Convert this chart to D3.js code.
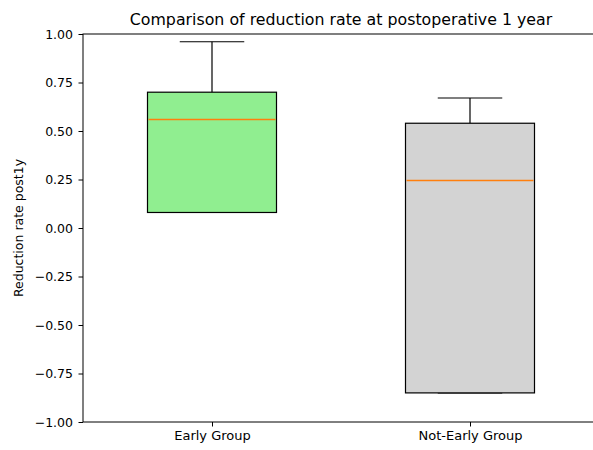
<!DOCTYPE html>
<html>
<head>
<meta charset="utf-8">
<script src="https://cdn.jsdelivr.net/npm/d3@7"></script>
<style>
  body { margin: 0; background: #fff; }
  text { font-family: "DejaVu Sans", sans-serif; fill: #000; }
</style>
</head>
<body>
<svg></svg>
<script>
var width = 593;
var height = 450;

// box stats
var groups = ["Early Group", "Not-Early Group"];
var whiskerLow = [0.08, -0.85];
var q1 = [0.08, -0.85];
var medians = [0.56, 0.25];
var q3 = [0.70, 0.54];
var whiskerHigh = [0.96, 0.67];
var fills = ["#90ee90", "#d3d3d3"];
var yTicks = [-1.00, -0.75, -0.50, -0.25, 0.00, 0.25, 0.50, 0.75, 1.00];

// note: "top" is taken by window.top, so use plot* names
var plotLeft = 83, plotRight = 599, plotTop = 34, plotBottom = 422;

var xScale = d3.scaleLinear()
    .domain([0.5, 2.5])
    .range([plotLeft, plotRight]);

var yScale = d3.scaleLinear()
    .domain([-1, 1])
    .range([plotBottom, plotTop]);

var svg = d3.select("svg")
    .attr("width", width)
    .attr("height", height);

var yAxis = d3.axisLeft(yScale)
    .tickValues(yTicks)
    .tickFormat(d => d3.format(".2f")(d).replace("-", "\u2212"))
    .tickSize(4.5)
    .tickSizeOuter(0);

var xAxis = d3.axisBottom(xScale)
    .tickValues([1, 2])
    .tickFormat((d, i) => groups[i])
    .tickSize(4.5)
    .tickSizeOuter(0);

var gy = svg.append("g")
    .classed("y-axis", true)
    .attr("transform", `translate(${plotLeft},0)`)
    .call(yAxis);

var gx = svg.append("g")
    .classed("x-axis", true)
    .attr("transform", `translate(0,${plotBottom})`)
    .call(xAxis);

svg.selectAll(".domain").remove();
svg.selectAll(".tick line").attr("stroke", "#000").attr("stroke-width", 1);
svg.selectAll(".tick text").attr("fill", "#000");
gy.selectAll(".tick text").style("font-size", "12.5px").attr("x", -10);
gx.selectAll(".tick text").style("font-size", "13px").attr("y", 9);

var data = groups.map((g, i) => ({
    pos: i + 1,
    lo: whiskerLow[i], q1: q1[i], med: medians[i], q3: q3[i], hi: whiskerHigh[i],
    fill: fills[i]
}));

var boxHalf = 0.25, capHalf = 0.125;

var box = svg.selectAll(".box")
    .data(data)
    .enter()
    .append("g")
    .classed("box", true);

// whiskers
box.append("line")
    .attr("x1", d => xScale(d.pos)).attr("x2", d => xScale(d.pos))
    .attr("y1", d => yScale(d.q3)).attr("y2", d => yScale(d.hi))
    .attr("stroke", "#000").attr("stroke-width", 1.2);
box.append("line")
    .attr("x1", d => xScale(d.pos)).attr("x2", d => xScale(d.pos))
    .attr("y1", d => yScale(d.q1)).attr("y2", d => yScale(d.lo))
    .attr("stroke", "#000").attr("stroke-width", 1.2);

// caps
box.append("line")
    .attr("x1", d => xScale(d.pos - capHalf)).attr("x2", d => xScale(d.pos + capHalf))
    .attr("y1", d => yScale(d.hi)).attr("y2", d => yScale(d.hi))
    .attr("stroke", "#000").attr("stroke-width", 1.2);
box.append("line")
    .attr("x1", d => xScale(d.pos - capHalf)).attr("x2", d => xScale(d.pos + capHalf))
    .attr("y1", d => yScale(d.lo)).attr("y2", d => yScale(d.lo))
    .attr("stroke", "#000").attr("stroke-width", 1.2);

box.append("rect")
    .attr("x", d => xScale(d.pos - boxHalf))
    .attr("y", d => yScale(d.q3))
    .attr("width", d => xScale(d.pos + boxHalf) - xScale(d.pos - boxHalf))
    .attr("height", d => yScale(d.q1) - yScale(d.q3))
    .attr("fill", d => d.fill)
    .attr("stroke", "#000")
    .attr("stroke-width", 1.2);

box.append("line")
    .attr("x1", d => xScale(d.pos - boxHalf) + 1).attr("x2", d => xScale(d.pos + boxHalf) - 1)
    .attr("y1", d => Math.round(yScale(d.med)) + 0.5).attr("y2", d => Math.round(yScale(d.med)) + 0.5)
    .attr("stroke", "#ff7f0e").attr("stroke-width", 1.6);

// frame
svg.append("rect")
    .attr("x", plotLeft).attr("y", plotTop)
    .attr("width", plotRight - plotLeft).attr("height", plotBottom - plotTop)
    .attr("fill", "none")
    .attr("stroke", "#000")
    .attr("stroke-width", 1);

svg.append("text")
    .attr("x", (plotLeft + plotRight) / 2)
    .attr("y", plotTop - 9)
    .style("text-anchor", "middle")
    .style("font-size", "15.8px")
    .text("Comparison of reduction rate at postoperative 1 year");

svg.append("text")
    .attr("transform", "rotate(-90)")
    .attr("x", -(plotTop + plotBottom) / 2)
    .attr("y", 23)
    .style("text-anchor", "middle")
    .style("font-size", "12.5px")
    .text("Reduction rate post1y");
</script>
</body>
</html>
